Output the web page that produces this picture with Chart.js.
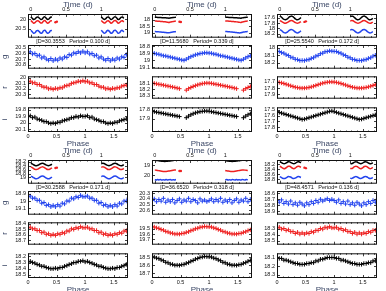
<!DOCTYPE html>
<html lang="en">
<head>
<meta charset="UTF-8">
<title>Light curves</title>
<script src="https://cdn.jsdelivr.net/npm/chart.js@4.4.0/dist/chart.umd.min.js"></script>
<style>
  body { margin: 0; background: #fff; }
  #wrap { position: relative; width: 386px; height: 291px; overflow: hidden; }
  #wrap canvas { position: absolute; }
</style>
</head>
<body>
<div id="wrap"></div>
<script>
// labels above the g panels
const LABELS = [
  "[D=30.3553   Period= 0.100 d]",
  "[D=11.5680   Period= 0.339 d]",
  "[D=25.5540   Period= 0.172 d]",
  "[D=30.2588   Period= 0.171 d]",
  "[D=36.6520   Period= 0.318 d]",
  "[D=48.4571   Period= 0.136 d]"
];

// phase grid (plotted twice: phase and phase+1)
const PHASE = [0,0.04,0.08,0.12,0.16,0.2,0.24,0.28,0.32,0.36,0.4,0.44,0.48,0.52,0.56,0.6,0.64,0.68,0.72,0.76,0.8,0.84,0.88,0.92,0.96];

// observation times (d)
const T_NIGHT1 = [0,0.02,0.04,0.06,0.08,0.1,0.12,0.14,0.16,0.18,0.2,0.22,0.24,0.26,0.28,0.3];
const T_NIGHT2 = [1,1.02,1.04,1.06,1.08,1.1,1.12,1.14,1.16,1.18,1.2,1.22,1.24,1.26,1.28,1.3,1.32];
const T_EXTRA = [0.35,0.37];

// folded magnitudes
const G_PHASE = [
  [20.59,20.57,20.61,20.60,20.64,20.63,20.68,20.66,20.70,20.72,20.69,20.73,20.70,20.72,20.68,20.70,20.66,20.67,20.62,20.63,20.59,20.60,20.57,20.59,20.56],
  [18.896,18.899,18.909,18.913,18.924,18.934,18.937,18.947,18.953,18.963,18.969,18.979,18.985,18.995,19.0,18.984,18.966,18.947,18.935,18.921,18.913,18.903,18.899,18.892,18.892],
  [18.046,18.048,18.063,18.071,18.092,18.102,18.124,18.133,18.153,18.157,18.17,18.168,18.171,18.161,18.157,18.14,18.132,18.11,18.1,18.078,18.07,18.052,18.048,18.039,18.043],
  [18.94,18.93,18.96,18.96,18.99,18.99,19.03,19.02,19.06,19.05,19.08,19.06,19.08,19.05,19.07,19.03,19.04,19.0,19.0,18.96,18.97,18.94,18.95,18.92,18.94],
  [20.43,20.40,20.45,20.41,20.44,20.39,20.46,20.42,20.45,20.41,20.47,20.43,20.40,20.46,20.42,20.44,20.39,20.45,20.41,20.43,20.47,20.40,20.44,20.42,20.45],
  [18.72,18.75,18.71,18.77,18.74,18.78,18.73,18.79,18.76,18.80,18.75,18.78,18.81,18.76,18.79,18.74,18.77,18.72,18.75,18.70,18.73,18.71,18.69,18.72,18.70]
];
const R_PHASE = [
  [20.07,20.06,20.09,20.09,20.12,20.12,20.15,20.17,20.17,20.20,20.19,20.21,20.19,20.20,20.18,20.18,20.15,20.14,20.13,20.10,20.09,20.08,20.06,20.07,20.05],
  [18.095,18.10,18.108,18.115,18.122,18.13,18.138,18.146,18.154,18.162,18.17,18.18,18.19,null,null,18.215,18.19,18.17,18.152,18.138,18.125,18.113,18.105,18.098,18.094],
  [17.703,17.708,17.716,17.726,17.738,17.75,17.763,17.774,17.785,17.792,17.798,17.8,17.799,17.796,17.789,17.78,17.769,17.757,17.744,17.732,17.721,17.712,17.705,17.701,17.7],
  [18.47,18.46,18.49,18.49,18.52,18.52,18.56,18.55,18.59,18.58,18.61,18.59,18.61,18.58,18.59,18.56,18.57,18.53,18.53,18.49,18.50,18.47,18.48,18.45,18.47],
  [19.466,19.468,19.485,19.494,19.516,19.527,19.551,19.561,19.58,19.586,19.6,19.598,19.601,19.59,19.586,19.568,19.558,19.536,19.523,19.501,19.492,19.473,19.468,19.458,19.463],
  [18.29,18.28,18.31,18.30,18.33,18.32,18.35,18.35,18.38,18.36,18.39,18.37,18.39,18.37,18.38,18.35,18.36,18.33,18.33,18.30,18.31,18.28,18.29,18.27,18.29]
];
const I_PHASE = [
  [19.90,19.89,19.92,19.91,19.94,19.95,19.96,19.98,19.98,20.00,20.01,20.00,20.01,19.99,19.99,19.97,19.96,19.95,19.94,19.92,19.92,19.90,19.91,19.89,19.90],
  [17.815,17.82,17.825,17.83,17.835,17.84,17.845,17.85,17.855,17.86,17.865,17.87,17.875,null,null,17.888,17.87,17.855,17.843,17.833,17.826,17.82,17.816,17.813,17.812],
  [17.535,17.547,17.559,17.571,17.583,17.595,17.607,17.619,17.631,17.643,17.655,17.667,17.661,17.649,17.637,17.625,17.613,17.601,17.589,17.577,17.565,17.553,17.541,17.529,17.523],
  [18.29,18.28,18.30,18.31,18.33,18.34,18.36,18.36,18.38,18.39,18.40,18.40,18.39,18.40,18.38,18.38,18.36,18.35,18.33,18.32,18.30,18.30,18.28,18.28,18.27],
  [18.495,18.497,18.51,18.517,18.533,18.543,18.562,18.569,18.585,18.589,18.6,18.598,18.601,18.593,18.589,18.575,18.567,18.55,18.54,18.523,18.515,18.501,18.497,18.489,18.492],
  [18.10,18.11,18.11,18.13,18.13,18.14,18.15,18.16,18.17,18.17,18.18,18.18,18.18,18.17,18.17,18.16,18.16,18.14,18.14,18.12,18.12,18.11,18.10,18.10,18.10]
];

// magnitudes against time, night 1 and night 2
const G_N1 = [
  [20.57,20.65,20.73,20.70,20.60,20.58,20.64,20.72,20.71,20.60,20.57,20.66,20.73,20.69,20.59,20.58],
  [18.895,18.905,18.913,18.92,18.93,18.94,18.95,18.96,18.97,18.99,18.99,18.96,18.94,18.925,18.91,18.9],
  [18.043,18.073,18.119,18.158,18.17,18.149,18.106,18.062,18.041,18.052,18.09,18.136,18.166,18.165,18.134,18.087],
  [18.934,18.965,19.015,19.057,19.07,19.048,19.001,18.954,18.931,18.943,18.984,19.034,19.066,19.065,19.031,18.981],
  [20.42,20.45,20.41,20.44,20.40,20.46,20.42,20.45,20.41,20.44,20.43,20.40,20.46,20.42,20.44,20.41],
  [18.70,18.73,18.77,18.78,18.77,18.73,18.70,18.71,18.73,18.77,18.78,18.76,18.73,18.70,18.71,18.74]
];
const G_N2 = [
  [20.57,20.65,20.72,20.70,20.60,20.58,20.65,20.73,20.69,20.59,20.57,20.64,20.73,20.70,20.60,20.58,20.66],
  [18.892,18.896,18.903,18.914,18.926,18.938,18.95,18.962,18.974,18.986,18.998,18.985,18.96,18.935,18.92,18.906,18.898],
  [18.062,18.041,18.052,18.09,18.136,18.166,18.165,18.134,18.087,18.05,18.041,18.065,18.109,18.151,18.17,18.156,18.115],
  [18.954,18.931,18.943,18.984,19.034,19.066,19.065,19.031,18.981,18.941,18.931,18.957,19.004,19.05,19.07,19.055,19.011],
  [20.44,20.41,20.45,20.42,20.46,20.40,20.43,20.45,20.41,20.44,20.42,20.46,20.40,20.43,20.45,20.41,20.44],
  [18.77,18.78,18.75,18.72,18.70,18.72,18.75,18.78,18.77,18.74,18.71,18.70,18.72,18.76,18.78,18.77,18.74]
];
const R_N1 = [
  [20.06,20.13,20.20,20.17,20.09,20.07,20.12,20.19,20.18,20.09,20.06,20.14,20.20,20.16,20.08,20.07],
  [18.095,18.105,18.112,18.12,18.13,18.14,18.15,18.16,18.17,18.185,18.21,18.18,18.155,18.135,18.12,18.1],
  [17.703,17.725,17.761,17.79,17.8,17.784,17.75,17.717,17.7,17.709,17.739,17.774,17.797,17.797,17.772,17.737],
  [18.464,18.495,18.545,18.587,18.6,18.578,18.531,18.484,18.461,18.473,18.514,18.564,18.596,18.595,18.561,18.511],
  [19.464,19.477,19.499,19.525,19.552,19.576,19.593,19.6,19.597,19.583,19.56,19.534,19.506,19.482,19.466,19.46],
  [18.283,18.314,18.358,18.38,18.363,18.319,18.285,18.286,18.323,18.365,18.38,18.355,18.31,18.282,18.291,18.332]
];
const R_N2 = [
  [20.06,20.13,20.19,20.17,20.09,20.07,20.13,20.20,20.16,20.08,20.06,20.12,20.20,20.17,20.09,20.07,20.14],
  [18.094,18.097,18.105,18.115,18.125,18.135,18.145,18.155,18.165,18.178,18.195,18.21,18.175,18.15,18.13,18.11,18.1],
  [17.717,17.7,17.709,17.739,17.774,17.797,17.797,17.772,17.737,17.708,17.7,17.719,17.753,17.786,17.8,17.789,17.758],
  [18.484,18.461,18.473,18.514,18.564,18.596,18.595,18.561,18.511,18.471,18.461,18.487,18.534,18.58,18.6,18.585,18.541],
  [19.506,19.534,19.56,19.583,19.597,19.6,19.593,19.576,19.552,19.525,19.499,19.477,19.464,19.46,19.468,19.485,19.509],
  [18.371,18.378,18.347,18.302,18.28,18.298,18.341,18.376,18.374,18.338,18.295,18.28,18.305,18.35,18.379,18.369,18.329]
];
const I_N1 = [
  [19.87,19.94,20.01,19.98,19.90,19.88,19.93,20.00,19.99,19.90,19.87,19.95,20.01,19.97,19.89,19.88],
  [17.815,17.82,17.826,17.832,17.838,17.845,17.85,17.856,17.862,17.87,17.885,17.87,17.85,17.835,17.825,17.817],
  [17.53,17.565,17.615,17.657,17.67,17.648,17.601,17.554,17.531,17.543,17.584,17.634,17.666,17.665,17.631,17.581],
  [18.283,18.31,18.353,18.389,18.4,18.381,18.341,18.3,18.281,18.291,18.326,18.369,18.396,18.396,18.366,18.324],
  [18.493,18.503,18.52,18.541,18.563,18.581,18.595,18.6,18.597,18.586,18.569,18.548,18.526,18.508,18.495,18.49],
  [18.102,18.127,18.162,18.18,18.166,18.131,18.104,18.105,18.134,18.168,18.18,18.16,18.124,18.101,18.109,18.142]
];
const I_N2 = [
  [19.87,19.94,20.00,19.98,19.90,19.88,19.94,20.01,19.97,19.89,19.87,19.93,20.01,19.98,19.90,19.88,19.95],
  [17.813,17.816,17.822,17.828,17.834,17.84,17.846,17.852,17.858,17.865,17.875,17.885,17.862,17.845,17.83,17.82,17.815],
  [17.554,17.531,17.543,17.584,17.634,17.666,17.665,17.631,17.581,17.541,17.531,17.557,17.604,17.65,17.67,17.655,17.611],
  [18.3,18.281,18.291,18.326,18.369,18.396,18.396,18.366,18.324,18.289,18.281,18.303,18.344,18.383,18.4,18.387,18.35],
  [18.526,18.548,18.569,18.586,18.597,18.6,18.595,18.581,18.563,18.541,18.52,18.503,18.493,18.49,18.496,18.509,18.529],
  [18.173,18.178,18.153,18.118,18.1,18.114,18.149,18.176,18.175,18.146,18.112,18.1,18.12,18.156,18.179,18.171,18.139]
];
const R_EXTRA = [[20.15,20.12],[18.16,18.17],[17.75,17.73],[18.52,18.5],[19.56,19.55],[18.34,18.36]];

// axis ranges and tick labels
const TIME_RANGE = [[19.72,20.96],[17.57,19.36],[17.45,18.35],[18.11,19.32],[18.46,20.82],[18.03,18.99]];
const TIME_TICKS = [[20,20.5],[18,18.5,19],[17.6,17.8,18,18.2],[18.2,18.4,18.6,18.8,19],[19,20],[18.2,18.4,18.6,18.8]];
const G_RANGE = [[20.45,20.87],[18.78,19.12],[17.96,18.28],[18.86,19.19],[20.26,20.68],[18.56,18.96]];
const G_TICKS = [[20.5,20.6,20.7,20.8],[18.8,18.9,19,19.1],[18,18.1,18.2],[18.9,19,19.1],[20.3,20.4,20.5,20.6],[18.6,18.7,18.8,18.9]];
const R_RANGE = [[19.97,20.38],[17.98,18.36],[17.61,17.97],[18.37,18.78],[19.38,19.8],[18.2,18.56]];
const R_TICKS = [[20,20.1,20.2,20.3],[18.1,18.2,18.3],[17.7,17.8,17.9],[18.4,18.5,18.6,18.7],[19.5,19.6,19.7],[18.3,18.4,18.5]];
const I_RANGE = [[19.76,20.14],[17.77,18.05],[17.46,17.88],[18.15,18.55],[18.45,18.76],[18.05,18.34]];
const I_TICKS = [[19.8,19.9,20,20.1],[17.8,17.9],[17.5,17.6,17.7,17.8],[18.2,18.3,18.4,18.5],[18.5,18.6,18.7],[18.1,18.2,18.3]];

const PHASE_TICKS = [0,0.5,1,1.5];
const TIME_XTICKS = [0,0.5,1];

const BLUE = '#2243ee', RED = '#ee2020', BLACK = '#000000';
const TITLE_COLOR = '#3b4766';
const FONT = "'Liberation Sans', Arial, sans-serif";

const COL_X = [28, 152, 277];
const ROW_Y = [0, 146];
const BOX_W = 100, BOX_H = 26;

const wrap = document.getElementById('wrap');

// box round the plot, inward ticks, and the small label above it
const framePlugin = {
  id: 'frame',
  afterDatasetsDraw(chart, args, opts) {
    const a = chart.chartArea, ctx = chart.ctx;
    const xs = chart.scales.x, ys = chart.scales.y;
    ctx.save();
    ctx.strokeStyle = '#111';
    ctx.lineWidth = 1;
    ctx.strokeRect(a.left + 0.5, a.top + 0.5, a.right - a.left - 1, a.bottom - a.top - 1);
    ctx.beginPath();
    ctx.lineWidth = 0.8;
    const step = 0.1;
    for (let k = Math.ceil(xs.min / step); k * step <= xs.max + 1e-9; k++) {
      const px = Math.round(xs.getPixelForValue(k * step)) + 0.5;
      const len = (k % 5 === 0) ? 3 : 1.5;
      ctx.moveTo(px, a.bottom); ctx.lineTo(px, a.bottom - len);
      ctx.moveTo(px, a.top); ctx.lineTo(px, a.top + len);
    }
    ys.ticks.forEach(t => {
      const py = Math.round(ys.getPixelForValue(t.value)) + 0.5;
      ctx.moveTo(a.left, py); ctx.lineTo(a.left + 3, py);
      ctx.moveTo(a.right, py); ctx.lineTo(a.right - 3, py);
    });
    ctx.stroke();
    if (opts.label) {
      ctx.fillStyle = '#111';
      ctx.font = '5.5px ' + FONT;
      ctx.textAlign = 'center';
      ctx.textBaseline = 'middle';
      ctx.fillText(opts.label, (a.left + a.right) / 2 - 5, a.top - 3.5);
    }
    ctx.restore();
  }
};

function xy(xs, ys, shift) {
  return xs.map((x, i) => ({ x: x + (shift || 0), y: ys[i] })).filter(p => p.y !== null);
}

function yScale(range, ticks, title, lw) {
  return {
    reverse: true, min: range[0], max: range[1],
    grid: { display: false, drawTicks: false }, border: { display: false },
    afterBuildTicks: s => { s.ticks = ticks.map(v => ({ value: v })); },
    afterFit: s => { s.width = lw; },
    ticks: { font: { family: FONT, size: 5.5 }, color: '#111', padding: 2, autoSkip: false, callback: v => String(v) },
    title: { display: !!title, text: title, color: TITLE_COLOR, font: { family: FONT, size: 8 }, padding: 0 }
  };
}

function xScale(min, max, ticks, position, title, h) {
  const show = !!title;
  return {
    type: 'linear', min: min, max: max, position: position || 'bottom',
    display: show,
    grid: { display: false, drawTicks: false }, border: { display: false },
    afterBuildTicks: s => { s.ticks = ticks.map(v => ({ value: v })); },
    afterFit: s => { if (h) s.height = h; },
    ticks: { font: { family: FONT, size: 5.5 }, color: '#111', padding: 1.5, autoSkip: false, maxRotation: 0, callback: v => String(v) },
    title: { display: show, text: title, color: TITLE_COLOR, font: { family: FONT, size: 8 }, padding: 0 }
  };
}

function makeChart(left, top, width, height, padding, datasets, xCfg, yCfg, label) {
  const cv = document.createElement('canvas');
  cv.width = width; cv.height = height;
  cv.style.left = left + 'px'; cv.style.top = top + 'px';
  cv.style.width = width + 'px'; cv.style.height = height + 'px';
  wrap.appendChild(cv);
  return new Chart(cv, {
    type: 'scatter',
    data: { datasets: datasets },
    options: {
      responsive: false, animation: false, events: [],
      layout: { autoPadding: false, padding: padding },
      plugins: { legend: { display: false }, tooltip: { enabled: false }, frame: { label: label } },
      scales: { x: xCfg, y: yCfg }
    },
    plugins: [framePlugin]
  });
}

function phaseSet(vals, colour) {
  return {
    data: xy(PHASE, vals, 0).concat(xy(PHASE, vals, 1)),
    pointStyle: 'cross', pointRadius: 2.2, borderWidth: 1,
    borderColor: colour, backgroundColor: colour, clip: 0
  };
}

function lineSet(ts, vals, colour) {
  return {
    data: xy(ts, vals), showLine: true, tension: 0.4, borderWidth: 1.5,
    pointRadius: 0, borderColor: colour, backgroundColor: colour, clip: 0
  };
}

for (let p = 0; p < 6; p++) {
  const row = Math.floor(p / 3), col = p % 3;
  const bx = COL_X[col], ry = ROW_Y[row];
  const lw = col === 0 ? 28 : 26;
  const cx = bx - lw, cw = lw + BOX_W + 3;
  const first = col === 0;

  // time panel
  makeChart(cx, ry, cw, 14 + BOX_H + 3, { top: 0, bottom: 3, left: 0, right: 3 }, [
      lineSet(T_NIGHT1, I_N1[p], BLACK), lineSet(T_NIGHT2, I_N2[p], BLACK),
      lineSet(T_NIGHT1, R_N1[p], RED), lineSet(T_NIGHT2, R_N2[p], RED),
      lineSet(T_NIGHT1, G_N1[p], BLUE), lineSet(T_NIGHT2, G_N2[p], BLUE),
      { data: xy(T_EXTRA, R_EXTRA[p]), pointRadius: 1.2, borderWidth: 0, backgroundColor: RED, clip: 0 }
    ],
    xScale(-0.04, 1.38, TIME_XTICKS, 'top', 'Time (d)', 14),
    yScale(TIME_RANGE[p], TIME_TICKS[p], '', lw));

  // g
  makeChart(cx, ry + 45 - 8, cw, 8 + BOX_H + 3, { top: 8, bottom: 3, left: 0, right: 3 },
    [phaseSet(G_PHASE[p], BLUE)],
    xScale(0, 1.75, PHASE_TICKS),
    yScale(G_RANGE[p], G_TICKS[p], first ? 'g' : '', lw), LABELS[p]);

  // r
  makeChart(cx, ry + 75 - 4, cw, 4 + BOX_H + 3, { top: 4, bottom: 3, left: 0, right: 3 },
    [phaseSet(R_PHASE[p], RED)],
    xScale(0, 1.75, PHASE_TICKS),
    yScale(R_RANGE[p], R_TICKS[p], first ? 'r' : '', lw));

  // i
  makeChart(cx, ry + 106 - 4, cw, 4 + BOX_H + 17, { top: 4, bottom: 0, left: 0, right: 3 },
    [phaseSet(I_PHASE[p], BLACK)],
    xScale(0, 1.75, PHASE_TICKS, 'bottom', 'Phase', 17),
    yScale(I_RANGE[p], I_TICKS[p], first ? 'i' : '', lw));
}
</script>
</body>
</html>
